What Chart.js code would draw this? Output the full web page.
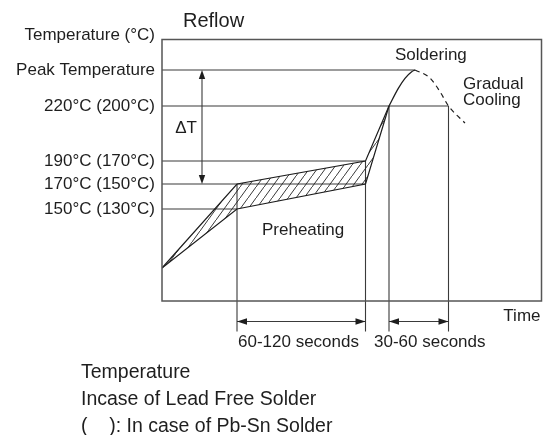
<!DOCTYPE html>
<html>
<head>
<meta charset="utf-8">
<script src="https://cdn.jsdelivr.net/npm/chart.js@4.4.1/dist/chart.umd.min.js"></script>
<style>
  html, body { margin: 0; padding: 0; background: #ffffff; }
  #wrap { width: 547px; height: 435px; position: relative; }
</style>
</head>
<body>
<div id="wrap"><canvas id="reflow"></canvas></div>
<script>
// Reflow soldering profile, drawn in diagram units:
// time runs 0..379.5 along x, profile height 0..261.5 along y.
const timeMax = 379.5;
const heightMax = 261.5;

// Temperature levels marked on the vertical axis
const levelValues = [231, 195, 140, 117, 92];
const levelLabels = ['Peak Temperature', '220°C (200°C)', '190°C (170°C)', '170°C (150°C)', '150°C (130°C)'];
const levelEnds = [253, 286.5, 203.5, 203.5, 75];

// Upper and lower bounds of the preheating band (hatched between them)
const bandTimes = [0, 75, 203.5, 227];
const upperHeights = [33, 117, 140, 195];
const lowerHeights = [33, 92, 117, 195];

// Rise to the peak while soldering
const solderTimes = [227, 236.3, 243, 249.7, 253];
const solderHeights = [195, 212.7, 222.7, 229.3, 231];

// Gradual cooling after the peak
const coolTimes = [253, 268, 278, 286.5, 303];
const coolHeights = [231, 223, 209.3, 195, 178];

// Vertical time markers and where they start
const markerTimes = [75, 203.5, 227, 286.5];
const markerTops = [117, 140, 195, 195];
const markerBase = -30.5;

// Duration spans shown under the time axis
const spanLevel = -20.5;
const spanStarts = [75, 227];
const spanEnds = [203.5, 286.5];
const spanLabels = ['60-120 seconds', '30-60 seconds'];

// ΔT arrow between peak and the 170°C level
const deltaTime = 40;
const deltaFrom = 231;
const deltaTo = 117;

const FONT = '"Liberation Sans", Arial, Helvetica, sans-serif';
const INK = '#1e1e1e';
const GUIDE = '#3a3a3a';

function pts(xs, ys) { return xs.map((t, i) => ({ x: t, y: ys[i] })); }

function hatchPattern() {
  const w = 8, h = 11;
  const c = document.createElement('canvas');
  c.width = w; c.height = h;
  const g = c.getContext('2d');
  g.strokeStyle = '#222';
  g.lineWidth = 0.9;
  g.beginPath();
  g.moveTo(-w, 2 * h); g.lineTo(2 * w, -h);
  g.stroke();
  return g.createPattern(c, 'repeat');
}

const datasets = [];

// hatched preheating band
datasets.push({
  data: pts(bandTimes, upperHeights),
  borderColor: INK, borderWidth: 1.2,
  backgroundColor: hatchPattern(),
  fill: '+1', pointRadius: 0, tension: 0, order: 1
});
datasets.push({
  data: pts(bandTimes, lowerHeights),
  borderColor: INK, borderWidth: 1.2,
  fill: false, pointRadius: 0, tension: 0, order: 1
});
// soldering rise
datasets.push({
  data: pts(solderTimes, solderHeights),
  borderColor: INK, borderWidth: 1.3, fill: false, pointRadius: 0,
  cubicInterpolationMode: 'monotone', order: 1
});
// cooling (dashed)
datasets.push({
  data: pts(coolTimes, coolHeights),
  borderColor: INK, borderWidth: 1.2, borderDash: [5, 4], fill: false, pointRadius: 0,
  cubicInterpolationMode: 'monotone', order: 1
});
// level guide lines
levelValues.forEach((v, i) => {
  datasets.push({
    data: [{ x: 0, y: v }, { x: levelEnds[i], y: v }],
    borderColor: GUIDE, borderWidth: 1.1, fill: false, pointRadius: 0, order: 2
  });
});
// vertical time markers, running below the axis
markerTimes.forEach((t, i) => {
  datasets.push({
    data: [{ x: t, y: markerTops[i] }, { x: t, y: markerBase }],
    borderColor: GUIDE, borderWidth: 1.1, fill: false, pointRadius: 0, clip: false, order: 2
  });
});
// duration spans
spanStarts.forEach((s, i) => {
  datasets.push({
    data: [{ x: s, y: spanLevel }, { x: spanEnds[i], y: spanLevel }],
    borderColor: GUIDE, borderWidth: 1.1, fill: false, pointRadius: 0, clip: false, order: 2
  });
});

function arrowHead(ctx, tx, ty, dx, dy, len, half) {
  ctx.beginPath();
  ctx.moveTo(tx, ty);
  ctx.lineTo(tx - dx * len - dy * half, ty - dy * len + dx * half);
  ctx.lineTo(tx - dx * len + dy * half, ty - dy * len - dx * half);
  ctx.closePath();
  ctx.fill();
}

const annotate = {
  id: 'annotate',
  afterDatasetsDraw(chart) {
    const { ctx, chartArea: a, scales: { x, y } } = chart;
    ctx.save();

    // frame
    ctx.strokeStyle = '#565656';
    ctx.lineWidth = 1.5;
    ctx.strokeRect(a.left, a.top, a.right - a.left, a.bottom - a.top);

    // ΔT double arrow
    const dxp = x.getPixelForValue(deltaTime);
    const y1 = y.getPixelForValue(deltaFrom), y2 = y.getPixelForValue(deltaTo);
    ctx.strokeStyle = GUIDE; ctx.fillStyle = INK; ctx.lineWidth = 1.1;
    ctx.beginPath(); ctx.moveTo(dxp, y1 + 4); ctx.lineTo(dxp, y2 - 4); ctx.stroke();
    arrowHead(ctx, dxp, y1, 0, -1, 9, 3.2);
    arrowHead(ctx, dxp, y2, 0, 1, 9, 3.2);

    // span arrowheads
    const sy = y.getPixelForValue(spanLevel);
    spanStarts.forEach((s, i) => {
      arrowHead(ctx, x.getPixelForValue(s), sy, -1, 0, 10, 3.2);
      arrowHead(ctx, x.getPixelForValue(spanEnds[i]), sy, 1, 0, 10, 3.2);
    });

    // text
    ctx.fillStyle = INK;
    ctx.textBaseline = 'alphabetic';
    const put = (txt, px, py, align, size) => {
      ctx.font = size + 'px ' + FONT;
      ctx.textAlign = align;
      ctx.fillText(txt, px, py);
    };
    put('Reflow', 183, 27, 'left', 20);
    put('Temperature (°C)', a.left - 7, 40, 'right', 17);
    put('Soldering', 395, 60, 'left', 17);
    put('Gradual', 463, 88.5, 'left', 17);
    put('Cooling', 463, 105, 'left', 17);
    put('ΔT', 186, 133, 'center', 17);
    put('Preheating', 262, 235, 'left', 17);
    put('Time', a.right - 1, 321, 'right', 17);
    put(spanLabels[0], 238, 347, 'left', 17);
    put(spanLabels[1], 374, 347, 'left', 17);
    put('Temperature', 81, 378, 'left', 19.5);
    put('Incase of Lead Free Solder', 81, 405, 'left', 19.5);
    put('(    ): In case of Pb-Sn Solder', 81, 432, 'left', 19.5);

    ctx.restore();
  }
};

new Chart(document.getElementById('reflow'), {
  type: 'line',
  data: { datasets },
  options: {
    responsive: true,
    maintainAspectRatio: false,
    animation: false,
    events: [],
    layout: { padding: { left: 0, top: 39.5, right: 5.5, bottom: 134 } },
    plugins: { legend: { display: false }, tooltip: { enabled: false }, title: { display: false } },
    scales: {
      x: { type: 'linear', min: 0, max: timeMax, display: false },
      y: {
        type: 'linear', min: 0, max: heightMax,
        grid: { display: false, drawTicks: false },
        border: { display: false },
        afterBuildTicks: (scale) => { scale.ticks = levelValues.map(v => ({ value: v })); },
        afterFit: (scale) => { scale.width = 162; },
        ticks: {
          autoSkip: false,
          padding: 7,
          color: INK,
          font: { family: FONT, size: 17 },
          callback: (value) => levelLabels[levelValues.indexOf(value)]
        }
      }
    }
  },
  plugins: [annotate]
});
</script>
</body>
</html>
